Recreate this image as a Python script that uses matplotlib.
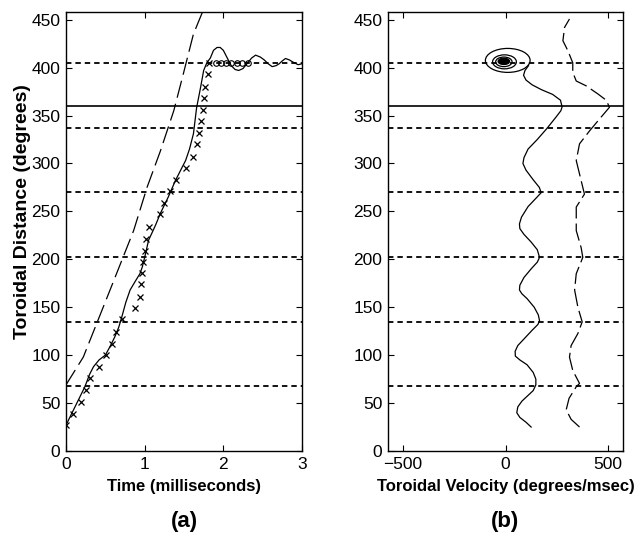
import matplotlib
matplotlib.use("Agg")
import matplotlib.pyplot as plt
from matplotlib import font_manager
from matplotlib.patches import Ellipse

# ---------------- data ----------------
# (a) distance vs time
solid_t = [0, 0.12, 0.24, 0.3, 0.35, 0.42, 0.5, 0.56, 0.62, 0.67, 0.71, 0.76, 0.815, 0.88, 0.94,
           0.97, 1.0, 1.05, 1.09, 1.14, 1.2, 1.3, 1.39, 1.47, 1.52, 1.57, 1.62, 1.66, 1.71, 1.75,
           1.79, 1.835, 1.875, 1.92, 1.96, 2.0, 2.05, 2.1, 2.15, 2.195, 2.25, 2.30, 2.36, 2.41,
           2.47, 2.52, 2.57, 2.62, 2.67, 2.71, 2.75, 2.79, 2.84, 2.88, 2.95, 3.0]
solid_d = [27, 47, 67, 80, 88, 95, 100, 109, 119, 129, 140, 155, 168, 177, 185,
           192, 202, 220, 227, 236, 248, 265, 282, 295, 303, 315, 331, 358, 379, 397,
           405, 410, 418, 421, 421, 418, 410, 402, 398, 397, 399, 404, 410, 413,
           411, 408, 404, 401, 402, 404, 407, 409.5, 408, 406, 403, 404]

dash_t = [0, 0.22, 0.39, 0.56, 0.71, 0.86, 1.03, 1.2, 1.37, 1.49, 1.62, 1.73, 1.78]
dash_d = [69, 98, 133, 168, 199, 230, 275, 313, 355, 393, 435, 457, 468]

cross_t = [0, 0.093, 0.187, 0.26, 0.31, 0.425, 0.505, 0.58, 0.637, 0.71, 0.88, 0.94, 0.95,
           0.96, 0.98, 1.0, 1.02, 1.06, 1.19, 1.25, 1.32, 1.40, 1.53, 1.62, 1.67, 1.69,
           1.71, 1.74, 1.76, 1.77, 1.80, 1.82]
cross_d = [27, 39, 51, 63.5, 75.7, 88, 100, 112, 124, 138, 149, 161, 174,
           186, 197, 209, 221, 234, 247, 259, 271, 283, 295, 307, 320, 332,
           344, 356, 368, 380, 393, 405]

circle_t = [1.91, 1.97, 2.04, 2.10, 2.18, 2.24, 2.31]
circle_d = [405, 405, 405, 405, 405, 405, 405]

# (b) distance vs velocity
vel_solid_v = [125, 100, 70, 55, 60, 80, 110, 135, 148, 148, 135, 105, 70, 48, 47, 60, 95, 130,
               158, 166, 160, 140, 105, 80, 68, 70, 90, 125, 155, 166, 155, 125, 90, 70, 68, 78,
               110, 150, 174, 165, 135, 100, 85, 90, 110, 155, 200, 245, 270, 276, 268, 230, 175,
               130, 100, 88, 95, 112]
vel_solid_d = [25, 30, 35, 40, 46, 52, 58, 63, 69, 75, 82, 90, 95, 99, 104, 110, 118, 126,
               132, 136, 142, 150, 159, 164, 168, 173, 181, 190, 197, 202, 210, 218, 226, 232, 237, 244,
               255, 264, 269.5, 275, 283, 293, 300, 306, 315, 325, 336, 348, 355, 359, 366, 372, 377,
               382, 387, 392, 397, 402]

vel_dash_v = [361, 320, 296, 310, 345, 361, 328, 312, 320, 353, 374, 353, 337, 345, 377, 369, 345,
              345, 385, 369, 345, 361, 410, 459, 507, 491, 450, 393, 345, 328, 328, 304, 280, 288, 312]
vel_dash_d = [25, 33, 43, 55, 67, 70.5, 84, 98, 110, 122.6, 134.7, 150, 168, 185, 202, 212, 230,
              254.5, 268, 282, 303, 320.5, 334, 346.5, 358.6, 366, 372.6, 381, 386, 395, 405, 417.7,
              428, 442, 450.7]

# contour rings around the end point
ring_v = [11, -5, -8, -8]
ring_d = [407.5, 406, 406, 406.5]
ring_half_v = [109, 58, 40, 28]
ring_half_d = [12.5, 7.3, 5.0, 3.3]

dashed_levels = [67.5, 135, 202.5, 270, 337.5, 405]
solid_level = 360

yticks = [0, 50, 100, 150, 200, 250, 300, 350, 400, 450]
xticks_a = [0, 1, 2, 3]
xticks_b = [-500, 0, 500]

# ---------------- fonts ----------------
def have(name):
    try:
        font_manager.findfont(font_manager.FontProperties(family=name), fallback_to_default=False)
        return True
    except Exception:
        return False

tick_family = "Liberation Sans Narrow" if have("Liberation Sans Narrow") else "Liberation Sans"
label_family = "Liberation Sans"

plt.rcParams['font.family'] = [label_family, 'DejaVu Sans']

fig = plt.figure(figsize=(6.37, 5.35), dpi=100)
W, H = 637, 535
axa = fig.add_axes([66 / W, (H - 451) / H, (302 - 66) / W, (451 - 12) / H])
axb = fig.add_axes([388 / W, (H - 451) / H, (623 - 388) / W, (451 - 12) / H])

for ax in (axa, axb):
    for y in dashed_levels:
        ax.axhline(y, color='black', lw=1.3, ls=(0, (3.0, 2.2)), zorder=1)
    ax.axhline(solid_level, color='black', lw=1.2, zorder=1)
    ax.set_ylim(0, 458)
    ax.set_yticks(yticks)
    ax.tick_params(direction='in', length=4, width=0.8, top=True, right=True, pad=4,
                   labelsize=12.5)
    for s in ax.spines.values():
        s.set_linewidth(1.0)

# (a)
axa.plot(solid_t, solid_d, color='black', lw=0.9, zorder=3)
axa.plot(dash_t, dash_d, color='black', lw=0.9, ls=(0, (14, 5)), zorder=3)
axa.plot(cross_t, cross_d, ls='none', marker='x', ms=5, mew=0.9, color='black', zorder=4)
axa.plot(circle_t, circle_d, ls='none', marker='o', ms=4, mew=0.8, mfc='none', color='black', zorder=4)
axa.set_xlim(0, 3)
axa.set_xticks(xticks_a)
axa.set_xlabel('Time (milliseconds)', fontsize=12, fontweight='bold', labelpad=5)
axa.set_ylabel('Toroidal Distance (degrees)', fontsize=14, fontweight='bold')
axa.yaxis.set_label_coords(-0.15, 0.545)

# (b)
axb.plot(vel_solid_v, vel_solid_d, color='black', lw=0.9, zorder=3)
axb.plot(vel_dash_v, vel_dash_d, color='black', lw=0.9, ls=(0, (14, 4)), zorder=3)
for i, (cv, cd, hv, hd) in enumerate(zip(ring_v, ring_d, ring_half_v, ring_half_d)):
    filled = (i == len(ring_v) - 1)
    e = Ellipse((cv, cd), 2 * hv, 2 * hd, facecolor='black' if filled else 'none',
                edgecolor='black', lw=0.9, zorder=4)
    axb.add_patch(e)
axb.set_xlim(-573, 573)
axb.set_xticks(xticks_b)
axb.set_xlabel('Toroidal Velocity (degrees/msec)', fontsize=12, fontweight='bold', labelpad=5)

for lab in axa.get_xticklabels() + axa.get_yticklabels() + axb.get_xticklabels() + axb.get_yticklabels():
    lab.set_fontfamily(tick_family)

fig.text((66 + 302) / 2 / W, 1 - 522 / H, '(a)', ha='center', va='center', fontsize=16, fontweight='bold')
fig.text((388 + 623) / 2 / W, 1 - 522 / H, '(b)', ha='center', va='center', fontsize=16, fontweight='bold')

fig.savefig('out.png', dpi=100)
